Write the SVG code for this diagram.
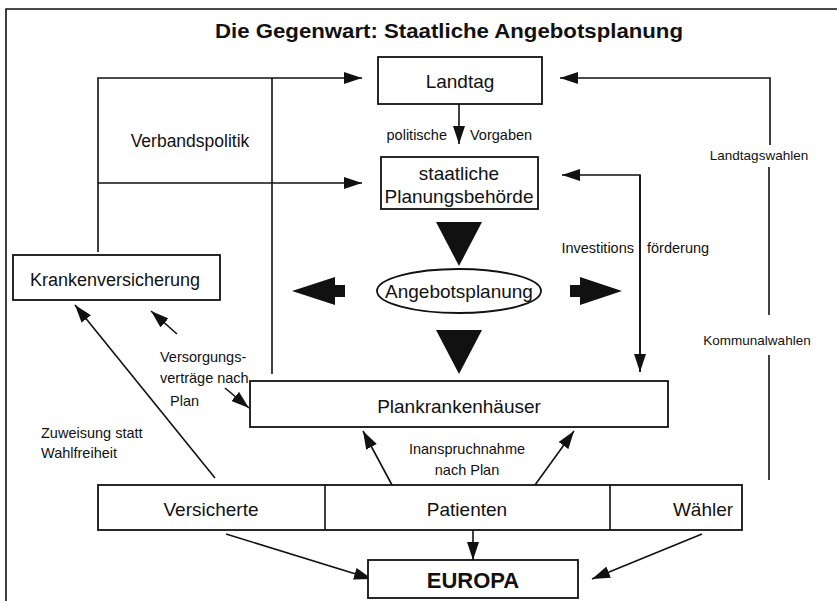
<svg xmlns="http://www.w3.org/2000/svg" width="837" height="601" viewBox="0 0 837 601">
<defs>
<style>
text{font-family:"Liberation Sans",Arial,sans-serif;fill:#111;}
.box{fill:#fff;stroke:#111;stroke-width:1.8;}
.ln{fill:none;stroke:#111;stroke-width:1.6;}
.lbl{font-size:19px;text-anchor:middle;}
.sm{font-size:14.5px;}
.wl{font-size:13.5px;text-anchor:middle;}
.big{fill:#111;stroke:none;}
</style>
<marker id="ah" markerUnits="userSpaceOnUse" markerWidth="20" markerHeight="12" refX="18" refY="6" orient="auto">
<path d="M0,0 L18,6 L0,12 Z" fill="#111"/>
</marker>
</defs>
<rect width="837" height="601" fill="#fff"/>
<path d="M6,601 V9 H837" class="ln"/>
<text x="449" y="38" font-size="20" font-weight="bold" text-anchor="middle" textLength="468" lengthAdjust="spacingAndGlyphs">Die Gegenwart: Staatliche Angebotsplanung</text>

<g id="connectors">
<path class="ln" d="M98,252 V78 H362" marker-end="url(#ah)"/>
<path class="ln" d="M272,374 V78"/>
<path class="ln" d="M98,183 H362" marker-end="url(#ah)"/>
<path class="ln" d="M770,145 V78 H560" marker-end="url(#ah)"/>
<path class="ln" d="M769,167 V315"/>
<path class="ln" d="M769,355 V480"/>
<path class="ln" d="M459,104 V144" marker-end="url(#ah)"/>
<path class="ln" d="M640,372 V175 H562" marker-end="url(#ah)"/>
<path class="ln" d="M640,175 V372" marker-end="url(#ah)"/>
<path class="ln" d="M215,478 L75,305" marker-end="url(#ah)"/>
<path class="ln" d="M177,334 L151,311" marker-end="url(#ah)"/>
<path class="ln" d="M225,388 L249,408" marker-end="url(#ah)"/>
<path class="ln" d="M392,485 L363,431" marker-end="url(#ah)"/>
<path class="ln" d="M535,485 L574,431" marker-end="url(#ah)"/>
<path class="ln" d="M226,534 L372,579" marker-end="url(#ah)"/>
<path class="ln" d="M473,530 V560" marker-end="url(#ah)"/>
<path class="ln" d="M702,534 L592,579" marker-end="url(#ah)"/>
<polygon class="big" points="436,222 482,222 459,266"/>
<polygon class="big" points="436,330 482,330 459,374"/>
<polygon class="big" points="292,291 335,277 335,285 345,285 345,297 335,297 335,305"/>
<polygon class="big" points="622,291 580,277 580,285 570,285 570,297 580,297 580,305"/>
</g>

<g id="landtag">
<rect class="box" x="378" y="57" width="164" height="47"/>
<text class="lbl" x="460" y="88">Landtag</text>
</g>
<g id="planungsbehoerde">
<rect class="box" x="381" y="157" width="157" height="52"/>
<text class="lbl" x="459" y="180">staatliche</text>
<text class="lbl" x="459" y="203">Planungsbehörde</text>
</g>
<g id="angebotsplanung">
<ellipse cx="459" cy="291" rx="82" ry="22" fill="#fff" stroke="#111" stroke-width="1.8"/>
<text class="lbl" x="459" y="298">Angebotsplanung</text>
</g>
<g id="krankenversicherung">
<rect class="box" x="13" y="255" width="207" height="45"/>
<text x="115" y="286" font-size="18" text-anchor="middle">Krankenversicherung</text>
</g>
<g id="plankrankenhaeuser">
<rect class="box" x="250" y="381" width="418" height="46"/>
<text class="lbl" x="459" y="413">Plankrankenhäuser</text>
</g>
<g id="bevoelkerung">
<rect class="box" x="98" y="485" width="644" height="45"/>
<path class="ln" d="M325,485 V530 M610,485 V530"/>
<text class="lbl" x="211" y="516">Versicherte</text>
<text class="lbl" x="467" y="516">Patienten</text>
<text class="lbl" x="703" y="516">Wähler</text>
</g>
<g id="europa">
<rect class="box" x="368" y="560" width="210" height="38"/>
<text x="473" y="588" font-size="22" font-weight="bold" text-anchor="middle">EUROPA</text>
</g>

<g id="labels">
<text x="190" y="147" font-size="17.5" text-anchor="middle">Verbandspolitik</text>
<text class="sm" x="447" y="140" text-anchor="end">politische</text>
<text class="sm" x="470" y="140">Vorgaben</text>
<text class="sm" x="634" y="253" text-anchor="end">Investitions</text>
<text class="sm" x="647" y="253">förderung</text>
<text class="wl" x="759" y="160">Landtagswahlen</text>
<text class="wl" x="757" y="345">Kommunalwahlen</text>
<text class="sm" x="160" y="362">Versorgungs-</text>
<text class="sm" x="160" y="383">verträge nach</text>
<text class="sm" x="170" y="406">Plan</text>
<text class="sm" x="41" y="438">Zuweisung statt</text>
<text class="sm" x="41" y="458">Wahlfreiheit</text>
<text class="sm" x="467" y="454" text-anchor="middle">Inanspruchnahme</text>
<text class="sm" x="467" y="475" text-anchor="middle">nach Plan</text>
</g>
</svg>
